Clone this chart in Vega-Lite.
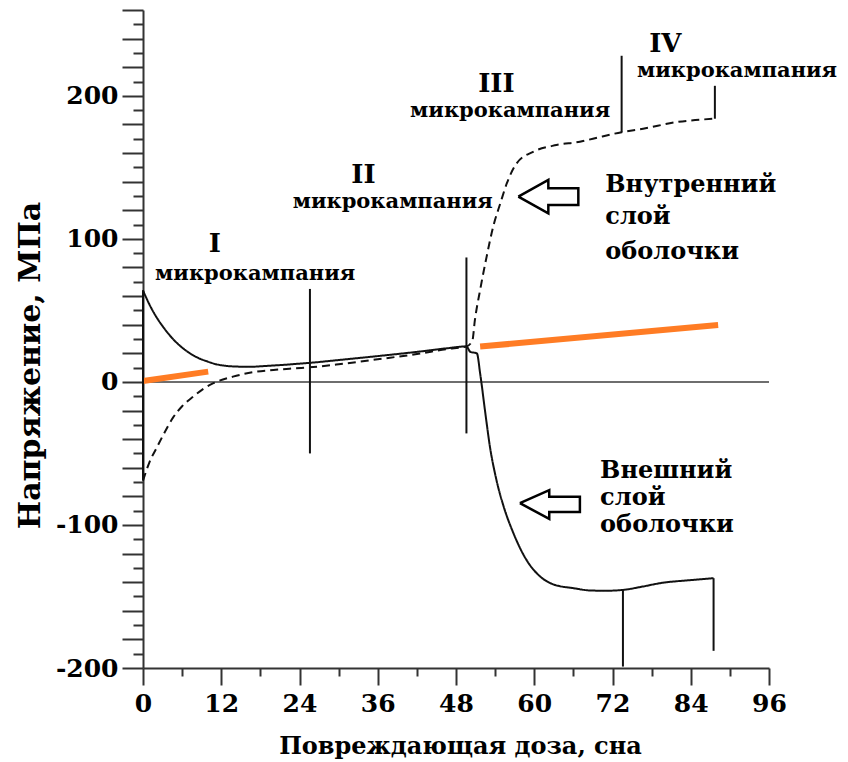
{
  "$schema": "https://vega.github.io/schema/vega-lite/v6.json",
  "width": 626,
  "height": 658,
  "autosize": "none",
  "padding": {"left": 143, "top": 10, "right": 79, "bottom": 94},
  "background": "white",
  "config": {
    "view": {"stroke": null},
    "text": {"font": "DejaVu Serif", "fontWeight": "bold", "color": "#000"},
    "axis": {
      "domainColor": "#333",
      "domainWidth": 2,
      "tickColor": "#333",
      "tickWidth": 2,
      "grid": false,
      "labelFont": "DejaVu Serif",
      "labelFontWeight": "bold",
      "labelFontSize": 25,
      "labelColor": "#000",
      "labelOverlap": false,
      "labelFlush": false,
      "titleFont": "DejaVu Serif",
      "titleFontWeight": "bold",
      "titleColor": "#000"
    }
  },
  "datasets": {
    "curves": [
      {"layer": "outer", "dose": 0, "stress": 64},
      {"layer": "outer", "dose": 1, "stress": 54},
      {"layer": "outer", "dose": 2.1, "stress": 45},
      {"layer": "outer", "dose": 3, "stress": 39},
      {"layer": "outer", "dose": 4.6, "stress": 30},
      {"layer": "outer", "dose": 6, "stress": 24},
      {"layer": "outer", "dose": 7.2, "stress": 20},
      {"layer": "outer", "dose": 8.5, "stress": 16.7},
      {"layer": "outer", "dose": 9.8, "stress": 14.4},
      {"layer": "outer", "dose": 11.2, "stress": 12.4},
      {"layer": "outer", "dose": 12.8, "stress": 11.2},
      {"layer": "outer", "dose": 14.5, "stress": 10.7},
      {"layer": "outer", "dose": 16.4, "stress": 10.6},
      {"layer": "outer", "dose": 19, "stress": 11.2},
      {"layer": "outer", "dose": 21.5, "stress": 11.9},
      {"layer": "outer", "dose": 24.1, "stress": 12.8},
      {"layer": "outer", "dose": 26, "stress": 13.5},
      {"layer": "outer", "dose": 30, "stress": 15.3},
      {"layer": "outer", "dose": 36.3, "stress": 18.2},
      {"layer": "outer", "dose": 42, "stress": 21},
      {"layer": "outer", "dose": 46.6, "stress": 23.5},
      {"layer": "outer", "dose": 49.6, "stress": 24.8},
      {"layer": "outer", "dose": 50.2, "stress": 21},
      {"layer": "outer", "dose": 51.2, "stress": 20},
      {"layer": "outer", "dose": 51.7, "stress": 6},
      {"layer": "outer", "dose": 52.5, "stress": -21.9},
      {"layer": "outer", "dose": 53.2, "stress": -45.2},
      {"layer": "outer", "dose": 54.2, "stress": -68.5},
      {"layer": "outer", "dose": 55.3, "stress": -87},
      {"layer": "outer", "dose": 56.8, "stress": -105.7},
      {"layer": "outer", "dose": 58.8, "stress": -124.4},
      {"layer": "outer", "dose": 60.9, "stress": -136},
      {"layer": "outer", "dose": 62.9, "stress": -141.5},
      {"layer": "outer", "dose": 66, "stress": -144.2},
      {"layer": "outer", "dose": 68.6, "stress": -145.8},
      {"layer": "outer", "dose": 71, "stress": -146},
      {"layer": "outer", "dose": 73.6, "stress": -145.4},
      {"layer": "outer", "dose": 76.7, "stress": -143},
      {"layer": "outer", "dose": 79.3, "stress": -140.7},
      {"layer": "outer", "dose": 84.4, "stress": -138.4},
      {"layer": "outer", "dose": 87.5, "stress": -137.2},
      {"layer": "inner", "dose": 0, "stress": -69},
      {"layer": "inner", "dose": 1, "stress": -56},
      {"layer": "inner", "dose": 2.1, "stress": -46},
      {"layer": "inner", "dose": 3, "stress": -38},
      {"layer": "inner", "dose": 4.6, "stress": -25},
      {"layer": "inner", "dose": 6, "stress": -17},
      {"layer": "inner", "dose": 7.7, "stress": -10.3},
      {"layer": "inner", "dose": 9.2, "stress": -5},
      {"layer": "inner", "dose": 10.8, "stress": -0.9},
      {"layer": "inner", "dose": 13.8, "stress": 3.7},
      {"layer": "inner", "dose": 16.9, "stress": 6.8},
      {"layer": "inner", "dose": 20, "stress": 8.3},
      {"layer": "inner", "dose": 23, "stress": 9.4},
      {"layer": "inner", "dose": 26.1, "stress": 10.4},
      {"layer": "inner", "dose": 30, "stress": 12.3},
      {"layer": "inner", "dose": 36.3, "stress": 16},
      {"layer": "inner", "dose": 42, "stress": 19.5},
      {"layer": "inner", "dose": 46.6, "stress": 23},
      {"layer": "inner", "dose": 49.6, "stress": 24.8},
      {"layer": "inner", "dose": 50.5, "stress": 28.7},
      {"layer": "inner", "dose": 50.9, "stress": 43.3},
      {"layer": "inner", "dose": 51.7, "stress": 64.3},
      {"layer": "inner", "dose": 52.7, "stress": 87.6},
      {"layer": "inner", "dose": 53.7, "stress": 108.5},
      {"layer": "inner", "dose": 54.8, "stress": 124.9},
      {"layer": "inner", "dose": 55.8, "stress": 138.9},
      {"layer": "inner", "dose": 57.3, "stress": 152.8},
      {"layer": "inner", "dose": 59.9, "stress": 161},
      {"layer": "inner", "dose": 63.4, "stress": 165.6},
      {"layer": "inner", "dose": 67, "stress": 167.9},
      {"layer": "inner", "dose": 69, "stress": 170},
      {"layer": "inner", "dose": 73.4, "stress": 174.6},
      {"layer": "inner", "dose": 76.7, "stress": 177},
      {"layer": "inner", "dose": 81.8, "stress": 181.6},
      {"layer": "inner", "dose": 87.7, "stress": 184}
    ],
    "jumps": [
      {"dose": 0, "from": -69, "to": 64},
      {"dose": 25.6, "from": -50, "to": 65},
      {"dose": 49.6, "from": -36, "to": 87},
      {"dose": 73.4, "from": 174.6, "to": 228},
      {"dose": 73.6, "from": -145.4, "to": -199},
      {"dose": 87.7, "from": 184, "to": 207},
      {"dose": 87.5, "from": -137.2, "to": -188}
    ],
    "trend": [
      {"seg": "a", "dose": 0, "stress": 0.7},
      {"seg": "a", "dose": 10, "stress": 7.2},
      {"seg": "b", "dose": 51.7, "stress": 24.7},
      {"seg": "b", "dose": 88.2, "stress": 39.8}
    ],
    "arrows": [
      {"id": "inner", "k": 0, "dose": 57.56, "stress": 129.5},
      {"id": "inner", "k": 1, "dose": 62.16, "stress": 141.2},
      {"id": "inner", "k": 2, "dose": 62.16, "stress": 135.4},
      {"id": "inner", "k": 3, "dose": 66.76, "stress": 135.4},
      {"id": "inner", "k": 4, "dose": 66.76, "stress": 123.7},
      {"id": "inner", "k": 5, "dose": 62.16, "stress": 123.7},
      {"id": "inner", "k": 6, "dose": 62.16, "stress": 117.9},
      {"id": "inner", "k": 7, "dose": 57.56, "stress": 129.5},
      {"id": "outer", "k": 0, "dose": 57.8, "stress": -84.8},
      {"id": "outer", "k": 1, "dose": 62.3, "stress": -75.7},
      {"id": "outer", "k": 2, "dose": 62.3, "stress": -80.3},
      {"id": "outer", "k": 3, "dose": 67.0, "stress": -80.3},
      {"id": "outer", "k": 4, "dose": 67.0, "stress": -91.0},
      {"id": "outer", "k": 5, "dose": 62.3, "stress": -91.0},
      {"id": "outer", "k": 6, "dose": 62.3, "stress": -95.7},
      {"id": "outer", "k": 7, "dose": 57.8, "stress": -84.8}
    ],
    "numerals": [
      {"dose": 11.0, "stress": 91, "text": "I"},
      {"dose": 33.8, "stress": 139, "text": "II"},
      {"dose": 54.2, "stress": 202.7, "text": "III"},
      {"dose": 80.1, "stress": 230.6, "text": "IV"}
    ],
    "campaigns": [
      {"dose": 17.2, "stress": 71.3, "text": "микрокампания"},
      {"dose": 38.3, "stress": 121.6, "text": "микрокампания"},
      {"dose": 56.3, "stress": 185.4, "text": "микрокампания"},
      {"dose": 91.1, "stress": 213.3, "text": "микрокампания"}
    ],
    "layers": [
      {"dose": 70.9, "stress": 133, "text": "Внутренний"},
      {"dose": 70.9, "stress": 110.4, "text": "слой"},
      {"dose": 70.9, "stress": 86, "text": "оболочки"},
      {"dose": 70.1, "stress": -67.3, "text": "Внешний"},
      {"dose": 70.1, "stress": -86, "text": "слой"},
      {"dose": 70.1, "stress": -104.6, "text": "оболочки"}
    ],
    "baseline": [{"x0": 0, "x1": 96, "y0": 0}]
  },
  "encoding": {
    "x": {
      "type": "quantitative",
      "scale": {"domain": [0, 96], "nice": false, "zero": false},
      "axis": {
        "title": "Повреждающая доза, сна",
        "titleFontSize": 24,
        "titleBaseline": "alphabetic",
        "titleX": 317,
        "titleY": 85,
        "values": [0, 6, 12, 18, 24, 30, 36, 42, 48, 54, 60, 66, 72, 78, 84, 90, 96],
        "labelExpr": "datum.value % 12 === 0 ? '' + datum.value : ''",
        "tickSize": {"condition": {"test": "datum.value % 12 === 0", "value": 17}, "value": 8},
        "labelPadding": 6
      }
    },
    "y": {
      "type": "quantitative",
      "scale": {"domain": [-200, 260], "nice": false, "zero": false},
      "axis": {
        "title": "Напряжение,  МПа",
        "titleFontSize": 30,
        "titleAngle": -90,
        "titleAlign": "center",
        "titleBaseline": "alphabetic",
        "titleX": -104,
        "titleY": 355,
        "values": [-200, -190, -180, -170, -160, -150, -140, -130, -120, -110, -100, -90, -80, -70, -60, -50, -40, -30, -20, -10, 0, 10, 20, 30, 40, 50, 60, 70, 80, 90, 100, 110, 120, 130, 140, 150, 160, 170, 180, 190, 200, 210, 220, 230, 240, 250, 260],
        "labelExpr": "datum.value % 100 === 0 && datum.value <= 200 ? '' + datum.value : ''",
        "tickSize": {"condition": {"test": "datum.value % 20 === 0", "value": 21}, "value": 10},
        "labelPadding": 4
      }
    }
  },
  "layer": [
    {
      "data": {"name": "baseline"},
      "mark": {"type": "rule", "color": "#6e6e6e", "strokeWidth": 2},
      "encoding": {
        "x": {"field": "x0", "type": "quantitative"},
        "x2": {"field": "x1"},
        "y": {"field": "y0", "type": "quantitative"}
      }
    },
    {
      "data": {"name": "trend"},
      "mark": {"type": "line", "color": "#ff7c24", "strokeWidth": 6, "strokeCap": "butt"},
      "encoding": {
        "x": {"field": "dose", "type": "quantitative"},
        "y": {"field": "stress", "type": "quantitative"},
        "detail": {"field": "seg"}
      }
    },
    {
      "data": {"name": "curves"},
      "mark": {"type": "line", "color": "#111", "strokeWidth": 2, "interpolate": "monotone"},
      "encoding": {
        "x": {"field": "dose", "type": "quantitative"},
        "y": {"field": "stress", "type": "quantitative"},
        "strokeDash": {
          "field": "layer",
          "type": "nominal",
          "scale": {"domain": ["outer", "inner"], "range": [[1, 0], [8, 5]]},
          "legend": null
        }
      }
    },
    {
      "data": {"name": "jumps"},
      "mark": {"type": "rule", "color": "#111", "strokeWidth": 2},
      "encoding": {
        "x": {"field": "dose", "type": "quantitative"},
        "y": {"field": "from", "type": "quantitative"},
        "y2": {"field": "to"}
      }
    },
    {
      "data": {"name": "arrows"},
      "mark": {"type": "line", "color": "#000", "strokeWidth": 2.5, "strokeJoin": "miter"},
      "encoding": {
        "x": {"field": "dose", "type": "quantitative"},
        "y": {"field": "stress", "type": "quantitative"},
        "detail": {"field": "id"},
        "order": {"field": "k", "type": "quantitative"}
      }
    },
    {
      "data": {"name": "numerals"},
      "mark": {"type": "text", "fontSize": 26, "align": "center", "baseline": "alphabetic"},
      "encoding": {
        "x": {"field": "dose", "type": "quantitative"},
        "y": {"field": "stress", "type": "quantitative"},
        "text": {"field": "text"}
      }
    },
    {
      "data": {"name": "campaigns"},
      "mark": {"type": "text", "fontSize": 21, "align": "center", "baseline": "alphabetic"},
      "encoding": {
        "x": {"field": "dose", "type": "quantitative"},
        "y": {"field": "stress", "type": "quantitative"},
        "text": {"field": "text"}
      }
    },
    {
      "data": {"name": "layers"},
      "mark": {"type": "text", "fontSize": 24, "align": "left", "baseline": "alphabetic"},
      "encoding": {
        "x": {"field": "dose", "type": "quantitative"},
        "y": {"field": "stress", "type": "quantitative"},
        "text": {"field": "text"}
      }
    }
  ]
}
